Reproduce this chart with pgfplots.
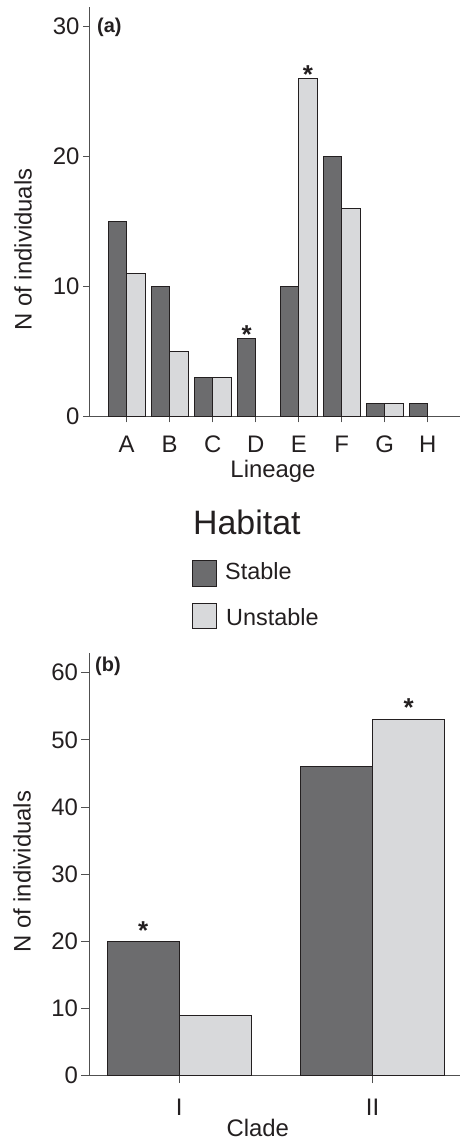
\documentclass[border=0pt]{standalone}
\usepackage{pgfplots}
\pgfplotsset{compat=1.18}
\usepackage{fontspec}
\setmainfont{Liberation Sans}
\definecolor{stablec}{RGB}{108,108,110}
\definecolor{unstablec}{RGB}{216,217,219}
\definecolor{edgec}{RGB}{35,31,32}
\definecolor{axc}{RGB}{80,80,80}
\definecolor{txt}{RGB}{35,31,32}
\begin{document}
\begin{tikzpicture}[x=1bp,y=1bp]
\useasboundingbox (0,0) rectangle (460,1143);
\pgfplotsset{
  myax/.style={
    scale only axis, width=371bp,
    axis x line*=bottom, axis y line*=left,
    axis line style={axc, line width=0.8bp},
    tick style={axc, line width=0.8bp},
    tick align=outside,
    /pgf/number format/assume math mode=true,
    tick label style={font=\fontsize{24}{28}\selectfont, text=txt},
    label style={font=\fontsize{24}{28}\selectfont, text=txt},
    ymin=0, xtick=data,
    ybar, ytick pos=left, xtick pos=bottom,
    clip=false,
  },
}
% ---------- panel (a) ----------
\begin{axis}[myax,
  at={(89bp,726.7bp)}, anchor=south west,
  height=409.3bp,
  ymax=31.5, ytick={0,10,20,30},
  xmin=-0.877, xmax=7.75,
  xticklabels={A,B,C,D,E,F,G,H},
  xticklabel style={anchor=base, yshift=-30.4bp},
  yticklabel style={anchor=east},
  major tick length=6bp,
  bar width=0.4256,
  ylabel={N of individuals},
  ylabel style={at={(axis description cs:-0.178,0.4075)}, anchor=center},
  xlabel={Lineage},
  xlabel style={at={(axis description cs:0.496,-0.1507)}, anchor=base},
]
\addplot[fill=stablec, draw=edgec, line width=0.9bp, bar shift=-0.2128] coordinates {
 (0,15) (1,10) (2,3) (3,6) (4,10) (5,20) (6,1) (7,1)};
\addplot[fill=unstablec, draw=edgec, line width=0.9bp, bar shift=0.2128] coordinates {
 (0,11) (1,5) (2,3) (4,26) (5,16) (6,1)};
\node[font=\fontsize{26}{28}\selectfont\bfseries, text=txt, anchor=base] at (axis cs:2.787,6) [yshift=-5bp] {*};
\node[font=\fontsize{26}{28}\selectfont\bfseries, text=txt, anchor=base] at (axis cs:4.213,26) [yshift=-5bp] {*};
\end{axis}
\node[anchor=base west, inner sep=0, font=\fontsize{20}{24}\selectfont\bfseries, text=txt] at (97,1110.3) {(a)};
% ---------- legend ----------
\node[anchor=base west, inner sep=0, font=\fontsize{34}{40}\selectfont, text=txt] at (193,608) {Habitat};
\draw[fill=stablec, draw=edgec, line width=0.9bp] (192,557) rectangle (216,583);
\node[anchor=base west, inner sep=0, font=\fontsize{23.5}{28}\selectfont, text=txt] at (225,563) {Stable};
\draw[fill=unstablec, draw=edgec, line width=0.9bp] (192,515) rectangle (216,540);
\node[anchor=base west, inner sep=0, font=\fontsize{23.5}{28}\selectfont, text=txt] at (226,517.3) {Unstable};
% ---------- panel (b) ----------
\begin{axis}[myax,
  at={(89bp,67.3bp)}, anchor=south west,
  height=423bp,
  ymax=62.98, ytick={0,10,20,30,40,50,60},
  xmin=-0.467, xmax=1.452,
  xticklabels={I,II},
  xticklabel style={anchor=base, yshift=-32.3bp},
  yticklabel style={anchor=east},
  major tick length=7.5bp,
  bar width=0.3725,
  ylabel={N of individuals},
  ylabel style={at={(axis description cs:-0.1806,0.482)}, anchor=center},
  xlabel={Clade},
  xlabel style={at={(axis description cs:0.455,-0.1442)}, anchor=base},
]
\addplot[fill=stablec, draw=edgec, line width=0.9bp, bar shift=-0.18625] coordinates {
 (0,20) (1,46)};
\addplot[fill=unstablec, draw=edgec, line width=0.9bp, bar shift=0.18625] coordinates {
 (0,9) (1,53)};
\node[font=\fontsize{26}{28}\selectfont\bfseries, text=txt, anchor=base] at (axis cs:-0.18625,20) [yshift=2bp] {*};
\node[font=\fontsize{26}{28}\selectfont\bfseries, text=txt, anchor=base] at (axis cs:1.18625,53) [yshift=3bp] {*};
\end{axis}
\node[anchor=base west, inner sep=0, font=\fontsize{20}{24}\selectfont\bfseries, text=txt] at (95,471) {(b)};
\end{tikzpicture}
\end{document}
